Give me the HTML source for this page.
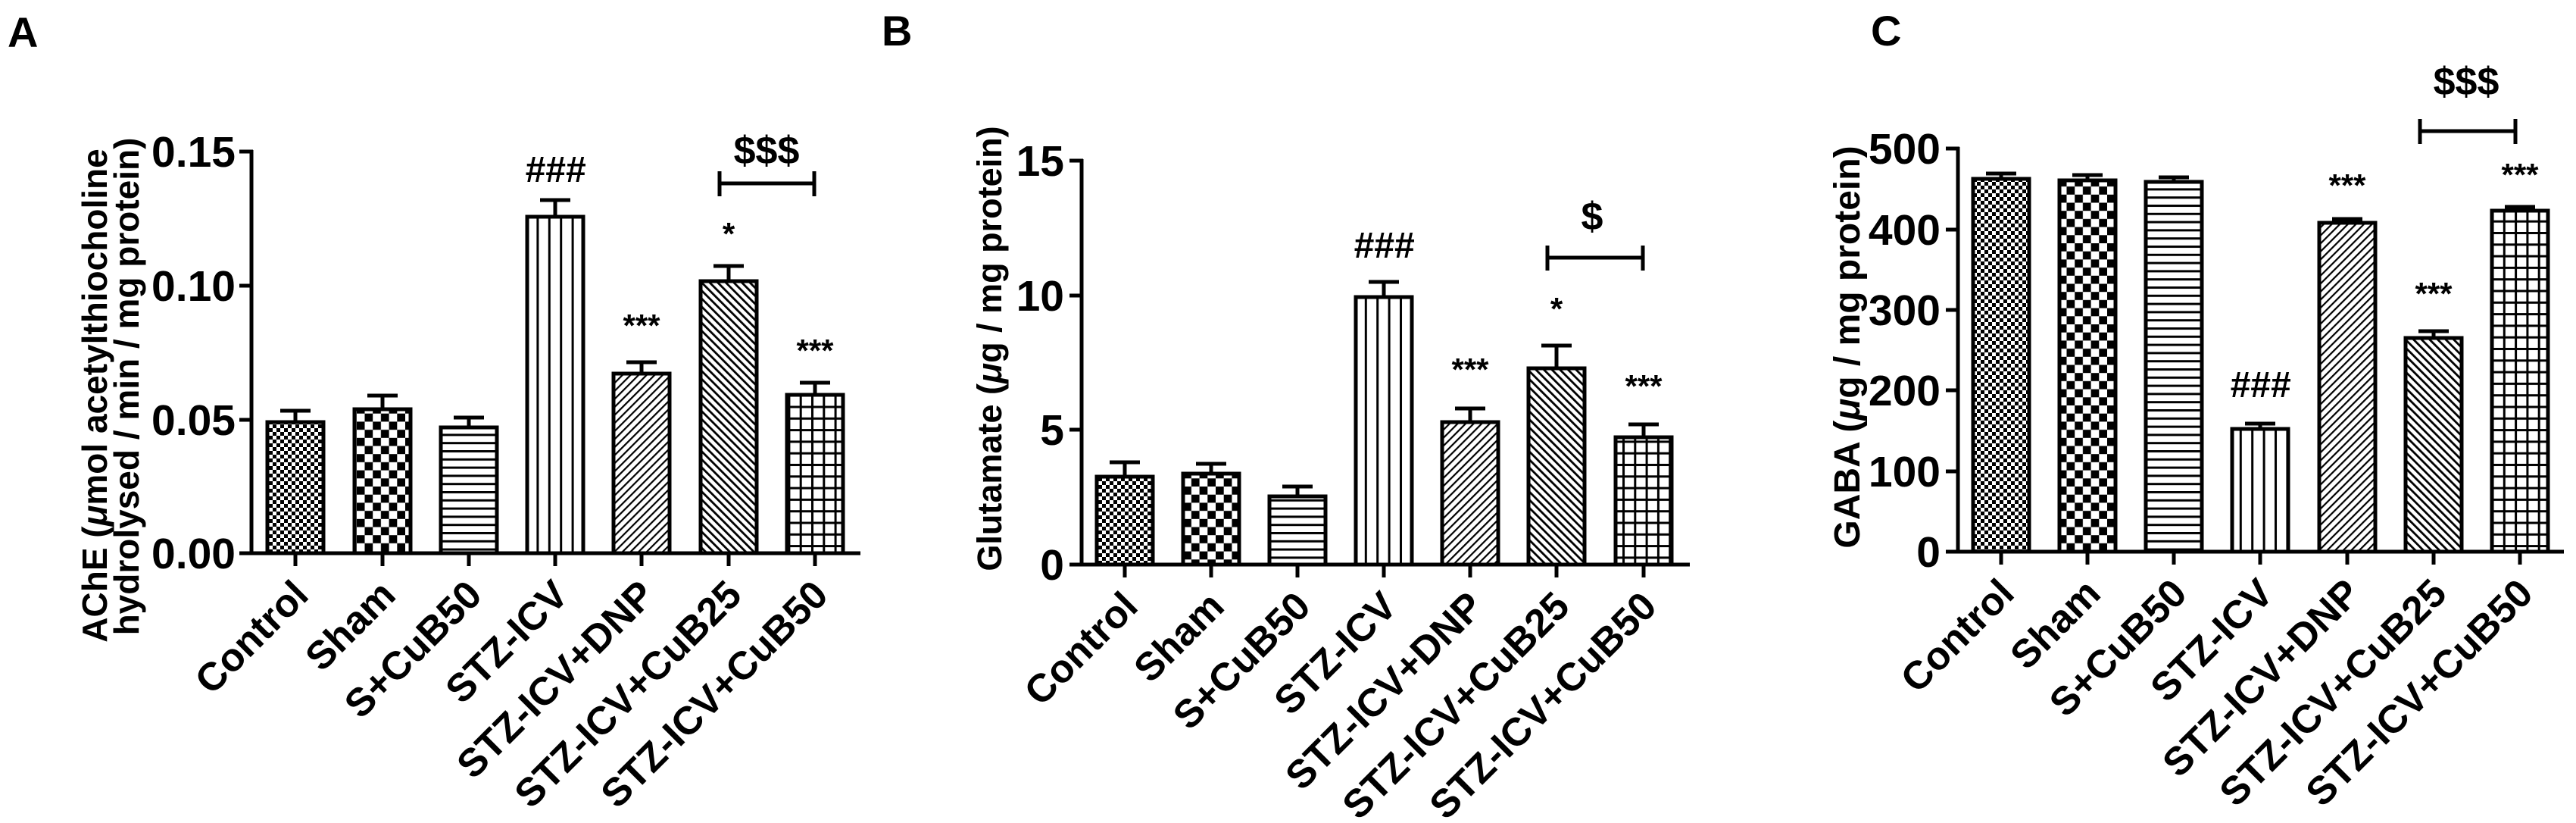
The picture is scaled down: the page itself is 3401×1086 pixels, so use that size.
<!DOCTYPE html>
<html><head><meta charset="utf-8"><style>
html,body{margin:0;padding:0;background:#fff;}
svg{display:block;}
text{font-family:"Liberation Sans",Arial,sans-serif;font-weight:bold;fill:#000;}
</style></head><body>
<svg width="3401" height="1086" viewBox="0 0 3401 1086" xmlns="http://www.w3.org/2000/svg">
<defs>
<pattern id="pC" width="10" height="10" patternUnits="userSpaceOnUse"><rect width="10" height="10" fill="#fff"/><rect x="0" y="0" width="5" height="5" fill="#000"/><rect x="5" y="5" width="5" height="5" fill="#000"/></pattern>
<pattern id="pS" width="21.4" height="21.4" patternUnits="userSpaceOnUse"><rect width="21.4" height="21.4" fill="#fff"/><rect x="0" y="0" width="10.7" height="10.7" fill="#000"/><rect x="10.7" y="10.7" width="10.7" height="10.7" fill="#000"/></pattern>
<pattern id="pH" width="20" height="10.8" patternUnits="userSpaceOnUse"><rect width="20" height="10.8" fill="#fff"/><rect x="0" y="0" width="20" height="3" fill="#000"/></pattern>
<pattern id="pV" width="15.4" height="20" patternUnits="userSpaceOnUse"><rect width="15.4" height="20" fill="#fff"/><rect x="0" y="0" width="3" height="20" fill="#000"/></pattern>
<pattern id="pD" width="7.5" height="7.5" patternUnits="userSpaceOnUse" patternTransform="rotate(45)"><rect width="7.5" height="7.5" fill="#fff"/><rect x="0" y="0" width="2.2" height="7.5" fill="#000"/></pattern>
<pattern id="pB" width="7.5" height="7.5" patternUnits="userSpaceOnUse" patternTransform="rotate(-45)"><rect width="7.5" height="7.5" fill="#fff"/><rect x="0" y="0" width="2.8" height="7.5" fill="#000"/></pattern>
<pattern id="pG" width="15.3" height="15.3" patternUnits="userSpaceOnUse"><rect width="15.3" height="15.3" fill="#fff"/><rect x="0" y="0" width="3" height="15.3" fill="#000"/><rect x="0" y="0" width="15.3" height="3" fill="#000"/></pattern>
</defs>

<!-- ============ PANEL A ============ -->
<text x="10" y="62" font-size="56">A</text>
<g stroke="#000" stroke-width="5" fill="none">
<line x1="332" y1="198" x2="332" y2="732"/>
<line x1="316" y1="200" x2="334" y2="200"/><line x1="316" y1="377" x2="334" y2="377"/><line x1="316" y1="554" x2="334" y2="554"/>
<line x1="316" y1="730" x2="1136" y2="730"/>
<line x1="390" y1="730" x2="390" y2="747"/><line x1="505" y1="730" x2="505" y2="747"/><line x1="619" y1="730" x2="619" y2="747"/><line x1="733" y1="730" x2="733" y2="747"/><line x1="847" y1="730" x2="847" y2="747"/><line x1="962" y1="730" x2="962" y2="747"/><line x1="1076" y1="730" x2="1076" y2="747"/>
</g>
<g font-size="57" text-anchor="end">
<text x="311" y="220">0.15</text><text x="311" y="397">0.10</text><text x="311" y="574">0.05</text><text x="311" y="750">0.00</text>
</g>
<g stroke="#000" stroke-width="5">
<rect x="353" y="557" width="74" height="173" fill="url(#pC)"/><line x1="390" y1="557" x2="390" y2="542"/><line x1="370" y1="542" x2="410" y2="542"/>
<rect x="468" y="540" width="74" height="190" fill="url(#pS)"/><line x1="505" y1="540" x2="505" y2="522"/><line x1="485" y1="522" x2="525" y2="522"/>
<rect x="582" y="564" width="74" height="166" fill="url(#pH)"/><line x1="619" y1="564" x2="619" y2="551"/><line x1="599" y1="551" x2="639" y2="551"/>
<rect x="696" y="286" width="74" height="444" fill="url(#pV)"/><line x1="733" y1="286" x2="733" y2="264"/><line x1="713" y1="264" x2="753" y2="264"/>
<rect x="810" y="493" width="74" height="237" fill="url(#pD)"/><line x1="847" y1="493" x2="847" y2="478"/><line x1="827" y1="478" x2="867" y2="478"/>
<rect x="925" y="371" width="74" height="359" fill="url(#pB)"/><line x1="962" y1="371" x2="962" y2="351"/><line x1="942" y1="351" x2="982" y2="351"/>
<rect x="1039" y="521" width="74" height="209" fill="url(#pG)"/><line x1="1076" y1="521" x2="1076" y2="505"/><line x1="1056" y1="505" x2="1096" y2="505"/>
<line x1="950" y1="242" x2="1075" y2="242"/><line x1="950" y1="226" x2="950" y2="259"/><line x1="1075" y1="226" x2="1075" y2="259"/>
</g>
<g text-anchor="middle">
<text x="733" y="240" font-size="48" font-style="italic">###</text>
<text x="847" y="444" font-size="42">***</text>
<text x="962" y="323" font-size="42">*</text>
<text x="1076" y="477" font-size="42">***</text>
<text x="1012" y="216" font-size="52">$$$</text>
</g>
<g font-size="46" text-anchor="middle">
<text transform="translate(141,522) rotate(-90)">AChE (<tspan font-style="italic">μ</tspan>mol acetylthiocholine</text>
<text transform="translate(183,510) rotate(-90)">hydrolysed / min / mg protein)</text>
</g>
<g font-size="52" text-anchor="end">
<text transform="translate(410,788) rotate(-45)">Control</text>
<text transform="translate(525,788) rotate(-45)">Sham</text>
<text transform="translate(639,788) rotate(-45)">S+CuB50</text>
<text transform="translate(753,788) rotate(-45)">STZ-ICV</text>
<text transform="translate(867,788) rotate(-45)">STZ-ICV+DNP</text>
<text transform="translate(982,788) rotate(-45)">STZ-ICV+CuB25</text>
<text transform="translate(1096,788) rotate(-45)">STZ-ICV+CuB50</text>
</g>

<!-- ============ PANEL B ============ -->
<text x="1164" y="60" font-size="56">B</text>
<g stroke="#000" stroke-width="5" fill="none">
<line x1="1428" y1="210" x2="1428" y2="747"/>
<line x1="1412" y1="212" x2="1430" y2="212"/><line x1="1412" y1="390" x2="1430" y2="390"/><line x1="1412" y1="567" x2="1430" y2="567"/>
<line x1="1412" y1="745" x2="2231" y2="745"/>
<line x1="1485" y1="745" x2="1485" y2="762"/><line x1="1599" y1="745" x2="1599" y2="762"/><line x1="1713" y1="745" x2="1713" y2="762"/><line x1="1827" y1="745" x2="1827" y2="762"/><line x1="1941" y1="745" x2="1941" y2="762"/><line x1="2055" y1="745" x2="2055" y2="762"/><line x1="2170" y1="745" x2="2170" y2="762"/>
</g>
<g font-size="57" text-anchor="end">
<text x="1405" y="232">15</text><text x="1405" y="410">10</text><text x="1405" y="587">5</text><text x="1405" y="765">0</text>
</g>
<g stroke="#000" stroke-width="5">
<rect x="1448" y="629" width="74" height="116" fill="url(#pC)"/><line x1="1485" y1="629" x2="1485" y2="610"/><line x1="1465" y1="610" x2="1505" y2="610"/>
<rect x="1562" y="625" width="74" height="120" fill="url(#pS)"/><line x1="1599" y1="625" x2="1599" y2="612"/><line x1="1579" y1="612" x2="1619" y2="612"/>
<rect x="1676" y="655" width="74" height="90" fill="url(#pH)"/><line x1="1713" y1="655" x2="1713" y2="642"/><line x1="1693" y1="642" x2="1733" y2="642"/>
<rect x="1790" y="392" width="74" height="353" fill="url(#pV)"/><line x1="1827" y1="392" x2="1827" y2="372"/><line x1="1807" y1="372" x2="1847" y2="372"/>
<rect x="1904" y="557" width="74" height="188" fill="url(#pD)"/><line x1="1941" y1="557" x2="1941" y2="539"/><line x1="1921" y1="539" x2="1961" y2="539"/>
<rect x="2018" y="486" width="74" height="259" fill="url(#pB)"/><line x1="2055" y1="486" x2="2055" y2="456"/><line x1="2035" y1="456" x2="2075" y2="456"/>
<rect x="2133" y="577" width="74" height="168" fill="url(#pG)"/><line x1="2170" y1="577" x2="2170" y2="560"/><line x1="2150" y1="560" x2="2190" y2="560"/>
<line x1="2043" y1="340" x2="2169" y2="340"/><line x1="2043" y1="324" x2="2043" y2="357"/><line x1="2169" y1="324" x2="2169" y2="357"/>
</g>
<g text-anchor="middle">
<text x="1827" y="340" font-size="48" font-style="italic">###</text>
<text x="1941" y="502" font-size="42">***</text>
<text x="2055" y="422" font-size="42">*</text>
<text x="2170" y="524" font-size="42">***</text>
<text x="2102" y="303" font-size="52">$</text>
</g>
<text transform="translate(1322,460) rotate(-90)" font-size="45" text-anchor="middle">Glutamate (<tspan font-style="italic">μ</tspan>g / mg protein)</text>
<g font-size="52" text-anchor="end">
<text transform="translate(1505,803) rotate(-45)">Control</text>
<text transform="translate(1619,803) rotate(-45)">Sham</text>
<text transform="translate(1733,803) rotate(-45)">S+CuB50</text>
<text transform="translate(1847,803) rotate(-45)">STZ-ICV</text>
<text transform="translate(1961,803) rotate(-45)">STZ-ICV+DNP</text>
<text transform="translate(2075,803) rotate(-45)">STZ-ICV+CuB25</text>
<text transform="translate(2190,803) rotate(-45)">STZ-ICV+CuB50</text>
</g>

<!-- ============ PANEL C ============ -->
<text x="2470" y="60" font-size="56">C</text>
<g stroke="#000" stroke-width="5" fill="none">
<line x1="2585" y1="194" x2="2585" y2="730"/>
<line x1="2569" y1="196" x2="2587" y2="196"/><line x1="2569" y1="303" x2="2587" y2="303"/><line x1="2569" y1="409" x2="2587" y2="409"/><line x1="2569" y1="515" x2="2587" y2="515"/><line x1="2569" y1="622" x2="2587" y2="622"/>
<line x1="2569" y1="728" x2="3385" y2="728"/>
<line x1="2642" y1="728" x2="2642" y2="745"/><line x1="2756" y1="728" x2="2756" y2="745"/><line x1="2870" y1="728" x2="2870" y2="745"/><line x1="2984" y1="728" x2="2984" y2="745"/><line x1="3099" y1="728" x2="3099" y2="745"/><line x1="3213" y1="728" x2="3213" y2="745"/><line x1="3327" y1="728" x2="3327" y2="745"/>
</g>
<g font-size="57" text-anchor="end">
<text x="2562" y="216">500</text><text x="2562" y="323">400</text><text x="2562" y="429">300</text><text x="2562" y="535">200</text><text x="2562" y="642">100</text><text x="2562" y="748">0</text>
</g>
<g stroke="#000" stroke-width="5">
<rect x="2605" y="236" width="74" height="492" fill="url(#pC)"/><line x1="2642" y1="236" x2="2642" y2="229"/><line x1="2622" y1="229" x2="2662" y2="229"/>
<rect x="2719" y="238" width="74" height="490" fill="url(#pS)"/><line x1="2756" y1="238" x2="2756" y2="231"/><line x1="2736" y1="231" x2="2776" y2="231"/>
<rect x="2833" y="240" width="74" height="488" fill="url(#pH)"/><line x1="2870" y1="240" x2="2870" y2="234"/><line x1="2850" y1="234" x2="2890" y2="234"/>
<rect x="2947" y="566" width="74" height="162" fill="url(#pV)"/><line x1="2984" y1="566" x2="2984" y2="559"/><line x1="2964" y1="559" x2="3004" y2="559"/>
<rect x="3062" y="294" width="74" height="434" fill="url(#pD)"/><line x1="3099" y1="294" x2="3099" y2="289"/><line x1="3079" y1="289" x2="3119" y2="289"/>
<rect x="3176" y="446" width="74" height="282" fill="url(#pB)"/><line x1="3213" y1="446" x2="3213" y2="437"/><line x1="3193" y1="437" x2="3233" y2="437"/>
<rect x="3290" y="278" width="74" height="450" fill="url(#pG)"/><line x1="3327" y1="278" x2="3327" y2="273"/><line x1="3307" y1="273" x2="3347" y2="273"/>
<line x1="3195" y1="173" x2="3321" y2="173"/><line x1="3195" y1="157" x2="3195" y2="190"/><line x1="3321" y1="157" x2="3321" y2="190"/>
</g>
<g text-anchor="middle">
<text x="2984" y="524" font-size="48" font-style="italic">###</text>
<text x="3099" y="259" font-size="42">***</text>
<text x="3213" y="402" font-size="42">***</text>
<text x="3327" y="245" font-size="42">***</text>
<text x="3256" y="125" font-size="52">$$$</text>
</g>
<text transform="translate(2455,458) rotate(-90)" font-size="48" text-anchor="middle">GABA (<tspan font-style="italic">μ</tspan>g / mg protein)</text>
<g font-size="52" text-anchor="end">
<text transform="translate(2662,786) rotate(-45)">Control</text>
<text transform="translate(2776,786) rotate(-45)">Sham</text>
<text transform="translate(2890,786) rotate(-45)">S+CuB50</text>
<text transform="translate(3004,786) rotate(-45)">STZ-ICV</text>
<text transform="translate(3119,786) rotate(-45)">STZ-ICV+DNP</text>
<text transform="translate(3233,786) rotate(-45)">STZ-ICV+CuB25</text>
<text transform="translate(3347,786) rotate(-45)">STZ-ICV+CuB50</text>
</g>
</svg>
</body></html>
